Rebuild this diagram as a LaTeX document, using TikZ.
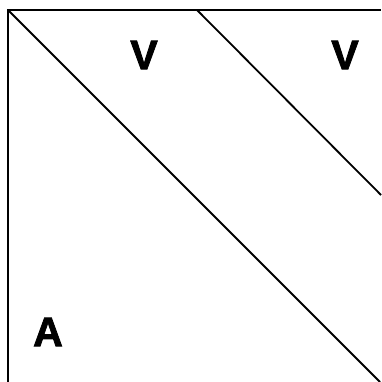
\documentclass[tikz,border=0pt]{standalone}
\usepackage{fontspec}
\setmainfont{Liberation Sans}
\newfontfamily\heavy[FakeBold=2]{Liberation Sans Bold}
\begin{document}
\begin{tikzpicture}[x=1pt,y=-1pt,
  border/.style={line width=2.4pt,black},
  diag/.style={line width=1.8pt,black},
  lbl/.style={inner sep=0pt,font=\fontsize{41}{41}\selectfont\heavy}]
\useasboundingbox (0,0) rectangle (381,382);
\coordinate (tl) at (8,10);
\coordinate (tr) at (381,10);
\coordinate (bl) at (8,382);
\coordinate (d1e) at (380,382);
\coordinate (d2s) at (197,10);
\coordinate (d2e) at (381,195);
\draw[border] (bl) -- (tl) -- (tr);
\draw[diag] (tl) -- (d1e);
\draw[diag] (d2s) -- (d2e);
\node[lbl] (v1) at (144,55) {V};
\node[lbl] (v2) at (345,55) {V};
\node[lbl] (a) at (48,332) {A};
\end{tikzpicture}
\end{document}
